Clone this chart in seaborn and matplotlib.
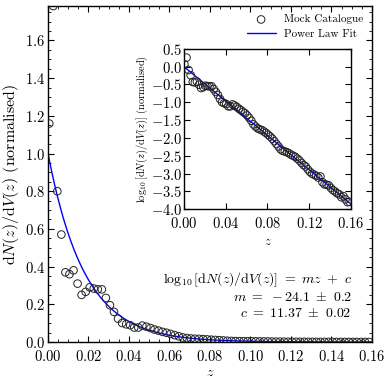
import numpy as np
import pandas as pd
import matplotlib
matplotlib.use("Agg")
import matplotlib.pyplot as plt
from matplotlib.ticker import MultipleLocator
import seaborn as sns

# ---- data ----
z_bins = [0.0006, 0.0026, 0.0046, 0.0066, 0.0086, 0.0106, 0.0126, 0.0146, 0.0166, 0.0186,
          0.0206, 0.0226, 0.0246, 0.0266, 0.0286, 0.0306, 0.0326, 0.0346, 0.0366, 0.0386,
          0.0406, 0.0426, 0.0446, 0.0466, 0.0486, 0.0506, 0.0526, 0.0546, 0.0566, 0.0586,
          0.0606, 0.0626, 0.0646, 0.0666, 0.0686, 0.0706, 0.0726, 0.0746, 0.0766, 0.0786,
          0.0806, 0.0826, 0.0846, 0.0866, 0.0886, 0.0906, 0.0926, 0.0946, 0.0966, 0.0986,
          0.1006, 0.1026, 0.1046, 0.1066, 0.1086, 0.1106, 0.1126, 0.1146, 0.1166, 0.1186,
          0.1206, 0.1226, 0.1246, 0.1266, 0.1286, 0.1306, 0.1326, 0.1346, 0.1366, 0.1386,
          0.1406, 0.1426, 0.1446, 0.1466, 0.1486, 0.1506, 0.1526, 0.1546, 0.1566, 0.1586]
log_dndv = [0.064, 0.251, -0.097, -0.244, -0.432, -0.444, -0.420, -0.509, -0.602, -0.575,
            -0.538, -0.547, -0.554, -0.554, -0.631, -0.710, -0.796, -0.907, -0.996, -1.027,
            -1.051, -1.114, -1.114, -1.061, -1.09, -1.13, -1.18, -1.22, -1.27, -1.31,
            -1.37, -1.44, -1.52, -1.62, -1.68, -1.73, -1.76, -1.78, -1.82, -1.86,
            -1.91, -1.96, -2.02, -2.09, -2.17, -2.24, -2.32, -2.36, -2.38, -2.40,
            -2.43, -2.47, -2.50, -2.53, -2.58, -2.63, -2.70, -2.76, -2.80, -2.88,
            -2.95, -3.00, -3.03, -3.06, -3.11, -3.08, -3.24, -3.30, -3.31, -3.33,
            -3.40, -3.46, -3.50, -3.55, -3.58, -3.66, -3.63, -3.72, -3.80, -3.79]
fit_m = -24.1
fit_m_err = 0.2
fit_c = 11.37
fit_c_err = 0.02

main_xticks = [0.00, 0.02, 0.04, 0.06, 0.08, 0.10, 0.12, 0.14, 0.16]
main_yticks = [0.0, 0.2, 0.4, 0.6, 0.8, 1.0, 1.2, 1.4, 1.6]
inset_xticks = [0.00, 0.04, 0.08, 0.12, 0.16]
inset_yticks = [0.5, 0.0, -0.5, -1.0, -1.5, -2.0, -2.5, -3.0, -3.5, -4.0]

# ---- style ----
sns.set_style("ticks")
plt.rcParams.update({
    "font.family": ["serif"],
    "font.serif": ["cmr10", "DejaVu Serif"],
    "mathtext.fontset": "cm",
    "axes.formatter.use_mathtext": True,
    "xtick.direction": "in",
    "ytick.direction": "in",
    "xtick.top": True,
    "ytick.right": True,
    "axes.edgecolor": "black",
    "axes.linewidth": 1.0,
    "xtick.color": "black",
    "ytick.color": "black",
    "text.color": "black",
    "axes.labelcolor": "black",
})

df = pd.DataFrame({"z": z_bins, "logn": log_dndv})
df["n"] = 10 ** df["logn"]
zfit = np.linspace(0.0, max(main_xticks), 400)
fit = pd.DataFrame({"z": zfit, "logn": fit_m * zfit})
fit["n"] = 10 ** fit["logn"]

fig = plt.figure(figsize=(3.91, 3.82), dpi=100)
ax = fig.add_axes([0.1228, 0.1047, 0.8283, 0.8795])

sns.scatterplot(data=df, x="z", y="n", ax=ax, marker="o", s=30,
                facecolor="none", edgecolor="#222222", linewidth=0.7,
                label="Mock Catalogue", zorder=3)
sns.lineplot(data=fit, x="z", y="n", ax=ax, color="#0000ff", linewidth=1.0,
             label="Power Law Fit", zorder=2)

ax.set_xlim(0, 0.16)
ax.set_ylim(0, df["n"].max())
ax.set_xticks(main_xticks)
ax.set_yticks(main_yticks)
ax.set_xticklabels([f"${t:.2f}$" for t in main_xticks])
ax.set_yticklabels([f"${t:.1f}$" for t in main_yticks])
ax.xaxis.set_minor_locator(MultipleLocator(0.005))
ax.yaxis.set_minor_locator(MultipleLocator(0.05))
ax.tick_params(which="major", length=4, width=0.8, labelsize=10.5, top=True, right=True, pad=2)
ax.tick_params(axis="x", which="major", pad=5)
ax.tick_params(which="minor", length=2, width=0.6, top=True, right=True)
ax.set_xlabel("$z$", fontsize=10, labelpad=2)
ax.set_ylabel(r"$\mathrm{d}N(z)/\mathrm{d}V(z)$ (normalised)", fontsize=11.5, labelpad=3)

leg = ax.legend(loc="upper right", frameon=False, fontsize=8, handlelength=2.6,
                borderaxespad=0.35, handletextpad=0.8, labelspacing=0.45)

ax.text(0.938, 0.185, r"$\log_{10}[\mathrm{d}N(z)/\mathrm{d}V(z)]\ =\ mz\ +\ c$",
        transform=ax.transAxes, ha="right", va="center", fontsize=10)
ax.text(0.938, 0.131, rf"$m\ =\ {fit_m}\ \pm\ {fit_m_err}$",
        transform=ax.transAxes, ha="right", va="center", fontsize=10)
ax.text(0.938, 0.086, rf"$c\ =\ {fit_c}\ \pm\ {fit_c_err}$",
        transform=ax.transAxes, ha="right", va="center", fontsize=10)

# ---- inset ----
ins = fig.add_axes([0.470, 0.452, 0.428, 0.4205])
sns.scatterplot(data=df, x="z", y="logn", ax=ins, marker="o", s=30,
                facecolor="none", edgecolor="#222222", linewidth=0.7, zorder=3,
                legend=False)
sns.lineplot(data=fit, x="z", y="logn", ax=ins, color="#0000ff", linewidth=1.0,
             zorder=2, legend=False)
ins.set_xlim(0, 0.16)
ins.set_ylim(-4.0, 0.5)
ins.set_xticks(inset_xticks)
ins.set_yticks(inset_yticks)
ins.set_xticklabels([f"${t:.2f}$" for t in inset_xticks])
ins.set_yticklabels([f"${t:.1f}$" for t in inset_yticks])
ins.tick_params(which="major", length=4, width=0.8, labelsize=10.5, top=True, right=True, pad=1)
ins.tick_params(axis="x", which="major", pad=5)
ins.set_xlabel("$z$", fontsize=9, labelpad=3)
ins.set_ylabel(r"$\log_{10}[\mathrm{d}N(z)/\mathrm{d}V(z)]$ (normalised)", fontsize=7.5, labelpad=1)

fig.savefig("out.png", dpi=100)
